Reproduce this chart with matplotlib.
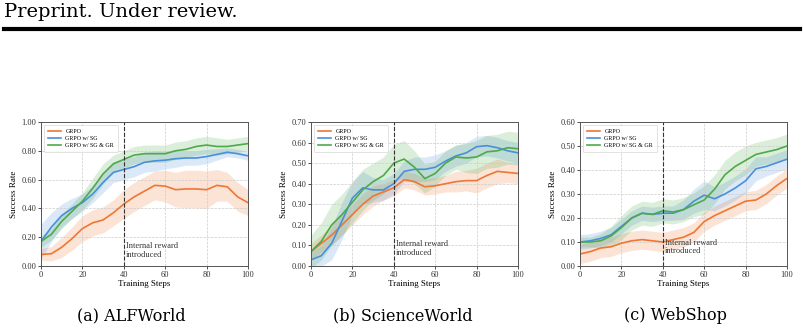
import matplotlib.pyplot as plt
import numpy as np

# -------------------------------------------------- #
# values read off the reference, sampled every 5 steps
steps = np.arange(0, 101, 5)
labels = ['GRPO', 'GRPO w/ SG', 'GRPO w/ SG & GR']
colors = ['#EE7733', '#4A8FDB', '#4DAA4A']

# (a) ALFWorld
alf_grpo = [0.08, 0.085, 0.13, 0.19, 0.26, 0.30, 0.32, 0.37, 0.43, 0.48, 0.52,
            0.56, 0.555, 0.53, 0.535, 0.535, 0.53, 0.56, 0.55, 0.48, 0.44]
alf_sg = [0.17, 0.27, 0.35, 0.40, 0.44, 0.50, 0.58, 0.65, 0.67, 0.69, 0.72,
          0.73, 0.735, 0.745, 0.75, 0.75, 0.76, 0.775, 0.79, 0.78, 0.765]
alf_gr = [0.17, 0.22, 0.31, 0.38, 0.45, 0.54, 0.64, 0.71, 0.74, 0.77, 0.78,
          0.78, 0.78, 0.80, 0.81, 0.83, 0.84, 0.83, 0.83, 0.84, 0.85]
alf_grpo_sd = [0.04, 0.05, 0.07, 0.08, 0.09, 0.09, 0.09, 0.09, 0.10, 0.10, 0.10,
               0.10, 0.11, 0.12, 0.13, 0.13, 0.13, 0.11, 0.10, 0.10, 0.09]
alf_sg_sd = [0.12, 0.10, 0.08, 0.07, 0.06, 0.06, 0.07, 0.07, 0.07, 0.07, 0.07,
             0.07, 0.06, 0.06, 0.05, 0.05, 0.05, 0.04, 0.03, 0.03, 0.03]
alf_gr_sd = [0.04, 0.04, 0.05, 0.05, 0.06, 0.07, 0.07, 0.06, 0.06, 0.06, 0.06,
             0.06, 0.06, 0.06, 0.06, 0.06, 0.06, 0.06, 0.05, 0.05, 0.05]

# (b) ScienceWorld
sci_grpo = [0.07, 0.11, 0.15, 0.20, 0.25, 0.30, 0.34, 0.36, 0.38, 0.42, 0.41,
            0.385, 0.39, 0.40, 0.41, 0.415, 0.415, 0.44, 0.46, 0.455, 0.45]
sci_sg = [0.03, 0.05, 0.11, 0.22, 0.33, 0.38, 0.37, 0.37, 0.40, 0.46, 0.47,
          0.47, 0.48, 0.51, 0.535, 0.55, 0.58, 0.585, 0.575, 0.56, 0.55]
sci_gr = [0.07, 0.12, 0.20, 0.25, 0.31, 0.37, 0.41, 0.44, 0.50, 0.52, 0.48,
          0.425, 0.45, 0.50, 0.53, 0.525, 0.53, 0.555, 0.56, 0.575, 0.57]
sci_grpo_sd = [0.04, 0.04, 0.05, 0.05, 0.05, 0.05, 0.05, 0.04, 0.04, 0.04, 0.04,
               0.04, 0.04, 0.04, 0.05, 0.05, 0.06, 0.06, 0.06, 0.05, 0.05]
sci_sg_sd = [0.04, 0.05, 0.08, 0.09, 0.08, 0.08, 0.06, 0.05, 0.05, 0.05, 0.06,
             0.06, 0.06, 0.05, 0.05, 0.05, 0.05, 0.05, 0.05, 0.05, 0.05]
sci_gr_sd = [0.08, 0.09, 0.10, 0.10, 0.10, 0.10, 0.09, 0.09, 0.09, 0.09, 0.08,
             0.07, 0.06, 0.06, 0.06, 0.07, 0.08, 0.08, 0.08, 0.08, 0.08]

# (c) WebShop
web_grpo = [0.05, 0.06, 0.075, 0.08, 0.095, 0.105, 0.11, 0.105, 0.10, 0.11, 0.12,
            0.14, 0.185, 0.21, 0.23, 0.25, 0.27, 0.275, 0.30, 0.335, 0.365]
web_sg = [0.10, 0.105, 0.115, 0.13, 0.165, 0.20, 0.22, 0.215, 0.22, 0.22, 0.235,
          0.27, 0.295, 0.28, 0.30, 0.325, 0.355, 0.405, 0.415, 0.43, 0.445]
web_gr = [0.10, 0.10, 0.105, 0.125, 0.16, 0.20, 0.22, 0.215, 0.23, 0.225, 0.235,
          0.255, 0.275, 0.32, 0.38, 0.415, 0.44, 0.465, 0.475, 0.485, 0.50]
web_grpo_sd = [0.04, 0.04, 0.04, 0.04, 0.04, 0.04, 0.04, 0.04, 0.04, 0.04, 0.04,
               0.04, 0.04, 0.04, 0.04, 0.04, 0.04, 0.04, 0.04, 0.04, 0.04]
web_sg_sd = [0.03, 0.03, 0.03, 0.03, 0.03, 0.03, 0.03, 0.03, 0.03, 0.03, 0.04,
             0.05, 0.06, 0.05, 0.05, 0.05, 0.05, 0.05, 0.04, 0.04, 0.04]
web_gr_sd = [0.02, 0.02, 0.03, 0.04, 0.05, 0.05, 0.05, 0.05, 0.05, 0.05, 0.05,
             0.05, 0.06, 0.06, 0.06, 0.06, 0.06, 0.05, 0.05, 0.05, 0.05]

panels = [
    ('(a) ALFWorld', [alf_grpo, alf_sg, alf_gr], [alf_grpo_sd, alf_sg_sd, alf_gr_sd],
     np.arange(0, 1.01, 0.2), 1.0, 0.05),
    ('(b) ScienceWorld', [sci_grpo, sci_sg, sci_gr], [sci_grpo_sd, sci_sg_sd, sci_gr_sd],
     np.arange(0, 0.71, 0.1), 0.7, 0.065),
    ('(c) WebShop', [web_grpo, web_sg, web_gr], [web_grpo_sd, web_sg_sd, web_gr_sd],
     np.arange(0, 0.61, 0.1), 0.6, 0.075),
]

# -------------------------------------------------- #

plt.rcParams['font.family'] = ['Liberation Serif', 'DejaVu Serif']
page_font = 'DejaVu Serif'

fig = plt.figure(figsize=(8.04, 3.32), dpi=100)

# page header
fig.text(0.005, 0.963, 'Preprint. Under review.', fontsize=14, va='center', ha='left',
         family=page_font)
fig.add_artist(plt.Line2D([0.005, 0.995], [0.912, 0.912], color='black', lw=3,
                          transform=fig.transFigure))

lefts = [41, 311, 580]
caption_x = [131, 403, 675]
W, H = 804, 332
for (title, means, sds, yticks, ymax, txt_y), left, cx in zip(panels, lefts, caption_x):
    ax = fig.add_axes([left / W, (H - 266) / H, 207 / W, 144 / H])
    for m, s, c, lab in zip(means, sds, colors, labels):
        m = np.array(m)
        s = np.array(s)
        ax.fill_between(steps, m - s, m + s, color=c, alpha=0.2, lw=0)
        ax.plot(steps, m, color=c, lw=1.2, label=lab)
    ax.axvline(40, color='#333333', ls='--', lw=0.8)
    ax.text(41, txt_y * ymax, 'Internal reward\nintroduced', fontsize=6,
            color='#333333', va='bottom', ha='left', linespacing=1.1)
    ax.set_xlim(0, 100)
    ax.set_ylim(0, ymax)
    ax.set_xticks(range(0, 101, 20))
    ax.set_yticks(yticks)
    ax.set_yticklabels([f'{v:.2f}' for v in yticks])
    ax.tick_params(labelsize=6, length=2, width=0.6, pad=1.5, colors='#333333')
    ax.grid(True, ls='--', lw=0.5, color='#cccccc')
    for sp in ax.spines.values():
        sp.set_color('#555555')
        sp.set_linewidth(0.7)
    ax.set_xlabel('Training Steps', fontsize=6.5, labelpad=1)
    ax.set_ylabel('Success Rate', fontsize=6.5, labelpad=2)
    leg = ax.legend(loc='upper left', fontsize=4.3, frameon=True, handlelength=2.2,
                    borderpad=0.6, labelspacing=0.35, fancybox=True)
    leg.get_frame().set_linewidth(0.5)
    fig.text(cx / W, (H - 316) / H, title, fontsize=11.5, ha='center',
             va='center', family=page_font)

fig.savefig('out.png', dpi=100)
